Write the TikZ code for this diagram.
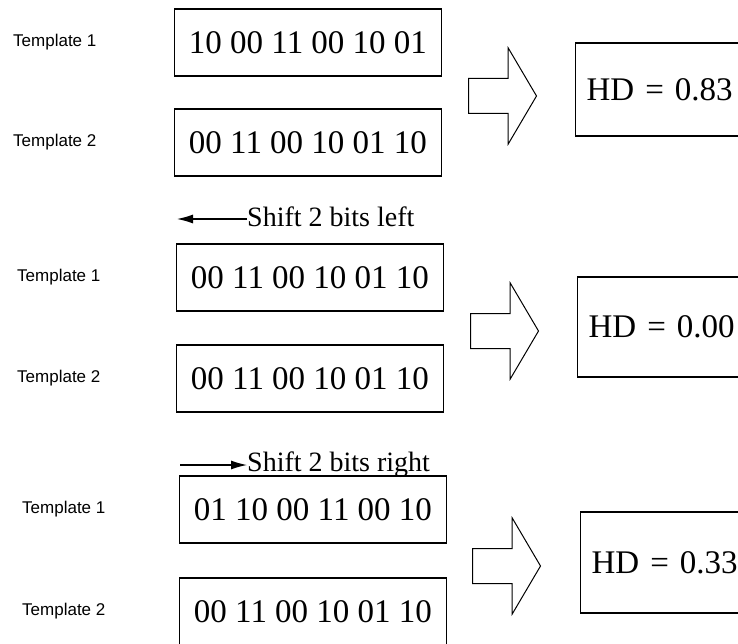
\documentclass[tikz,border=0pt]{standalone}
\usepackage{fontspec}
\setmainfont{Liberation Serif}
\newfontfamily\labelfont{Liberation Sans}
\usetikzlibrary{arrows.meta, positioning, shapes.arrows}
\tikzset{
  bits/.style       = {draw, line width=1.3pt, minimum width=267pt, minimum height=67pt,
                       inner sep=0pt, font=\fontsize{33}{36}\selectfont},
  tlabel/.style     = {anchor=west, inner sep=0pt, font=\labelfont\fontsize{17}{20}\selectfont},
  blockarrow/.style = {single arrow, draw, line width=1pt, anchor=tail,
                       inner xsep=0pt, inner ysep=17pt, minimum height=68pt,
                       single arrow head extend=30.5pt, single arrow tip angle=119},
  hdbox/.style      = {draw, line width=1.2pt, anchor=west, text width=200pt,
                       align=left, inner xsep=11pt, font=\fontsize{33}{36}\selectfont},
  shiftarrow/.style = {-{Latex[length=16pt, width=9pt]}, line width=1.2pt},
  shifttext/.style  = {anchor=base west, inner sep=0pt, font=\fontsize{28}{32}\selectfont},
}

\begin{document}
\begin{tikzpicture}[x=1pt, y=-1pt]
  \useasboundingbox (0,0) rectangle (738,644);
  \clip (0,0) rectangle (738,644);
  % one block per shift: labels, templates, big arrow, distance
  \foreach \g/\lx/\bx/\ya/\yb/\code/\ax/\ay/\hx/\hy/\hh/\hd in {
      1/13/308/42.5/142.5/10 00 11 00 10 01/468/96/575/89.5/93/0.83,
      2/17/310/277.5/378.5/00 11 00 10 01 10/470/331/577/327/100/0.00,
      3/22/313/509.5/611.5/01 10 00 11 00 10/472/566/580/562.5/101/0.33} {
    \node[tlabel] (la\g) at (\lx,\ya) {Template 1};
    \node[tlabel] (lb\g) at (\lx,\yb) {Template 2};
    \node[bits] (ta\g) at (\bx,\ya) {\code};
    \node[bits] (tb\g) at (\bx,\yb) {00 11 00 10 01 10};
    \node[blockarrow] (arr\g) at (\ax,\ay) {};
    \node[hdbox, minimum height=\hh pt] (hd\g) at (\hx,\hy) {HD = \hd};
  }
  % shift left
  \node[shifttext] (shl) at (247,226) {Shift 2 bits left};
  \coordinate (shlend) at (177,219);
  \draw[shiftarrow] (shl.west |- shlend) -- (shlend);
  % shift right
  \node[shifttext] (shr) at (247,471) {Shift 2 bits right};
  \coordinate (shrstart) at (180,465);
  \draw[shiftarrow] (shrstart) -- (shr.west |- shrstart);
\end{tikzpicture}
\end{document}
